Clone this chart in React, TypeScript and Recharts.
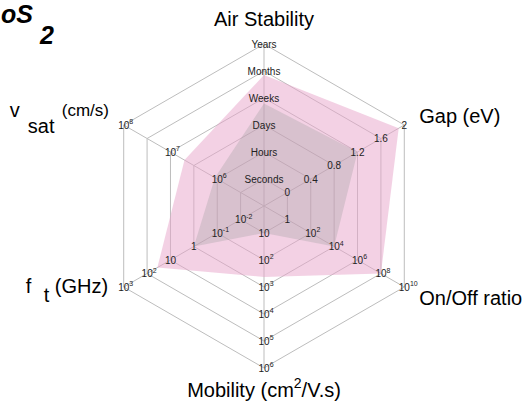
import React from 'react';
import { RadarChart, Radar, PolarGrid, PolarAngleAxis, PolarRadiusAxis } from 'recharts';

// Axis categories (clockwise from top)
const axisNames = ['Air Stability', 'Gap (eV)', 'On/Off ratio', 'Mobility', 'f_t', 'v_sat'];
// Scores on the 0..6 ring scale
const outerScores = [4.85, 5.76, 5.0, 2.63, 4.56, 3.4];
const innerScores = [3.8, 4.0, 3.0, 1.0, 3.0, 2.1];
// Ring levels
const ringLevels = [1, 2, 3, 4, 5, 6];
// Tick labels per axis (one per ring level)
const airStabilityTicks = ['Seconds', 'Hours', 'Days', 'Weeks', 'Months', 'Years'];
const gapTicks = ['0', '0.4', '0.8', '1.2', '1.6', '2'];
const onOffTicks = ['1', '10^2', '10^4', '10^6', '10^8', '10^10'];
const mobilityTicks = ['10', '10^2', '10^3', '10^4', '10^5', '10^6'];
const ftTicks = ['10^-2', '10^-1', '1', '10', '10^2', '10^3'];
const vsatTicks = ['', '10^6', '', '10^7', '', '10^8'];

const axisTickSets = [airStabilityTicks, gapTicks, onOffTicks, mobilityTicks, ftTicks, vsatTicks];
const axisAngles = [90, 30, -30, -90, -150, 150];

const data = axisNames.map((axis, i) => ({ axis, outer: outerScores[i], inner: innerScores[i] }));

const FONT = 'Liberation Sans, Arial, Helvetica, sans-serif';
const CX = 264;
const CY = 206;
const R = 162;
const RAD = Math.PI / 180;

const renderLabel = (label: string, x: number, y: number, key: string) => {
  if (!label) return null;
  if (label.includes('^')) {
    const [base, exp] = label.split('^');
    return (
      <text key={key} x={x - 5.5} y={y + 3.5} fontSize={10} fill="#222" fontFamily={FONT}>
        <tspan>{base}</tspan>
        <tspan dy={-4.5} fontSize={7}>{exp}</tspan>
      </text>
    );
  }
  return (
    <text key={key} x={x} y={y + 3.5} fontSize={10} fill="#222" fontFamily={FONT} textAnchor="middle">
      {label}
    </text>
  );
};

// One radius axis (at 90°) drives the ring scale; its tick renderer places the
// matching label of every category axis at the same scaled radius.
const RadiusTick = (props: any) => {
  const { x, y, payload } = props;
  const idx = ringLevels.indexOf(payload.value);
  if (idx < 0) return <g />;
  const r = payload.coordinate != null ? payload.coordinate : (payload.value * R) / 6;
  const cx = x;
  const cy = y + r;
  return (
    <g>
      {axisAngles.map((a, k) =>
        renderLabel(
          axisTickSets[k][idx],
          cx + r * Math.cos(-a * RAD),
          cy + r * Math.sin(-a * RAD),
          `${k}-${idx}`
        )
      )}
    </g>
  );
};

const TitleTick = (props: any) => {
  const { x, y, index } = props;
  const common = { fontFamily: FONT, fontSize: 20, fill: '#000' };
  switch (index) {
    case 0:
      return <text {...common} x={x} y={y - 10} textAnchor="middle">Air Stability</text>;
    case 1:
      return <text {...common} x={x + 8} y={y + 2}>Gap (eV)</text>;
    case 2:
      return <text {...common} x={x + 8} y={y + 14}>On/Off ratio</text>;
    case 3:
      return (
        <text {...common} x={x} y={y + 21} textAnchor="middle">
          <tspan>Mobility (cm</tspan>
          <tspan dy={-9} fontSize={14}>2</tspan>
          <tspan dy={9}>/V.s)</tspan>
        </text>
      );
    case 4:
      return (
        <text {...common} x={x - 91} y={y + 2}>
          <tspan>f</tspan>
          <tspan x={x - 73} dy={9}>t</tspan>
          <tspan x={x - 62} dy={-9}>(GHz)</tspan>
        </text>
      );
    case 5:
      return (
        <text {...common} x={x - 107} y={y - 4}>
          <tspan>v</tspan>
          <tspan x={x - 89} dy={16}>sat</tspan>
          <tspan x={x - 55} dy={-17} fontSize={17}>(cm/s)</tspan>
        </text>
      );
    default:
      return <g />;
  }
};

export default function App() {
  return (
    <div style={{ position: 'absolute', left: 0, top: 0, width: 532, height: 403, background: '#fff' }}>
      <RadarChart
        width={532}
        height={403}
        data={data}
        cx={CX}
        cy={CY}
        outerRadius={R}
        margin={{ top: 0, right: 0, bottom: 0, left: 0 }}
      >
        <PolarGrid
          gridType="polygon"
          polarRadius={ringLevels.map((l) => (l * R) / 6)}
          stroke="#bdbdbd"
          strokeWidth={1}
        />
        <PolarAngleAxis dataKey="axis" tick={<TitleTick />} axisLine={false} tickLine={false} />
        <Radar
          dataKey="outer"
          fill="#e7a3c9"
          fillOpacity={0.5}
          stroke="none"
          isAnimationActive={false}
        />
        <Radar
          dataKey="inner"
          fill="#9a9a9a"
          fillOpacity={0.3}
          stroke="none"
          isAnimationActive={false}
        />
        <PolarRadiusAxis
          angle={90}
          domain={[0, 6]}
          ticks={ringLevels as any}
          tickCount={7}
          axisLine={false}
          tickLine={false}
          tick={<RadiusTick />}
        />
      </RadarChart>
      <svg width={532} height={403} style={{ position: 'absolute', left: 0, top: 0, pointerEvents: 'none' }}>
        <text x={1} y={23} fontFamily={FONT} fontSize={25} fontWeight="bold" fontStyle="italic" fill="#000">
          oS
        </text>
        <text x={40} y={44} fontFamily={FONT} fontSize={25} fontWeight="bold" fill="#000" fontStyle="italic">
          2
        </text>
      </svg>
    </div>
  );
}
